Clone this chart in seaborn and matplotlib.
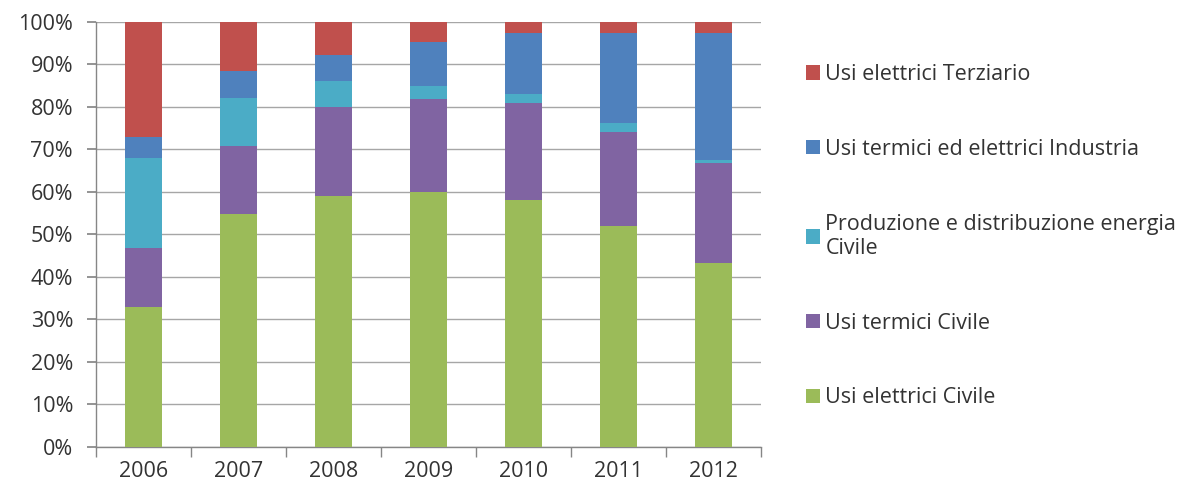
import matplotlib
matplotlib.use("Agg")
import matplotlib.pyplot as plt
import seaborn as sns
import numpy as np
import pandas as pd
from matplotlib.patches import Patch
from matplotlib.ticker import PercentFormatter, FixedLocator

years = ["2006", "2007", "2008", "2009", "2010", "2011", "2012"]
series_names = [
    "Usi elettrici Civile",
    "Usi termici Civile",
    "Produzione e distribuzione energia\nCivile",
    "Usi termici ed elettrici Industria",
    "Usi elettrici Terziario",
]
usi_elettrici_civile = [33.0, 54.9, 58.9, 60.0, 58.0, 52.0, 43.3]
usi_termici_civile = [13.9, 15.9, 21.0, 21.8, 23.0, 22.1, 23.5]
produzione_distribuzione = [21.0, 11.2, 6.2, 3.1, 2.1, 2.0, 0.7]
usi_industria = [5.1, 6.4, 6.1, 10.4, 14.2, 21.2, 29.8]
usi_elettrici_terziario = [27.0, 11.6, 7.8, 4.7, 2.7, 2.7, 2.7]
colors = ["#9BBB59", "#8064A2", "#4BACC6", "#4F81BD", "#C0504D"]

values = [usi_elettrici_civile, usi_termici_civile, produzione_distribuzione,
          usi_industria, usi_elettrici_terziario]

sns.set_theme(style="white")
plt.rcParams["font.family"] = ["Open Sans", "DejaVu Sans"]

fig = plt.figure(figsize=(12.04, 4.95), dpi=100)
ax = fig.add_axes([96 / 1204, (495 - 447) / 495, (761 - 96) / 1204, (447 - 21.7) / 495])

cum = np.cumsum(np.array(values), axis=0)
# draw from the top-most cumulative layer down so lower layers overlay
for i in range(len(values) - 1, -1, -1):
    df = pd.DataFrame({"year": years, "value": cum[i]})
    sns.barplot(data=df, x="year", y="value", color=colors[i], width=0.39,
                saturation=1, ax=ax, zorder=3, linewidth=0)

ax.set_ylim(0, 100)
ax.set_xlim(-0.5, len(years) - 0.5)
ax.yaxis.set_major_locator(FixedLocator(np.arange(0, 101, 10)))
ax.yaxis.set_major_formatter(PercentFormatter(decimals=0))
ax.set_xlabel("")
ax.set_ylabel("")
ax.grid(axis="y", color="#A6A6A6", linewidth=1, zorder=0)
ax.set_axisbelow(True)
for s in ["top", "right"]:
    ax.spines[s].set_visible(False)
for s in ["left", "bottom"]:
    ax.spines[s].set_color("#868686")
    ax.spines[s].set_linewidth(1)

ax.tick_params(axis="y", which="major", length=6.5, color="#868686", direction="out",
               labelsize=15.5, labelcolor="#333333", left=True, pad=10)
ax.tick_params(axis="x", which="major", length=0, labelsize=15.5, labelcolor="#333333", pad=10)
ax.set_xticks(np.arange(-0.5, len(years) + 0.5, 1), minor=True)
ax.tick_params(axis="x", which="minor", length=7, color="#868686", direction="out", bottom=True)

handles = [Patch(facecolor=colors[i], edgecolor="none") for i in range(len(values) - 1, -1, -1)]
labels = [series_names[i] for i in range(len(values) - 1, -1, -1)]
leg = fig.legend(handles, labels, loc="upper left", bbox_to_anchor=(806 / 1204, 1 - 64 / 495),
                 frameon=False, fontsize=15.5, handlelength=0.65, handleheight=0.65,
                 handletextpad=0.25, labelspacing=2.5, borderaxespad=0, borderpad=0,
                 labelcolor="#333333")

fig.savefig("out.png", dpi=100)
